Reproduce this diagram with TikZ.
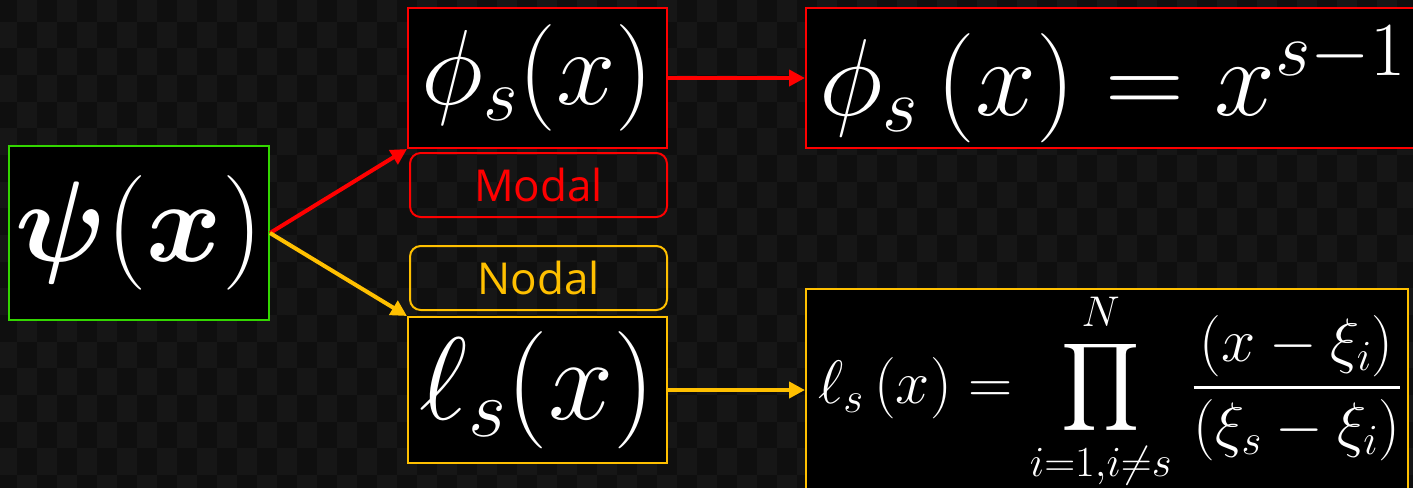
\RequirePackage{fix-cm}
\documentclass[tikz,border=0pt]{standalone}
\usepackage{amsmath}
\usepackage{fontspec}
\DeclareFontFamily{OMX}{cmex}{}
\DeclareFontShape{OMX}{cmex}{m}{n}{<->cmex10}{}
\newfontfamily\labelfont{Open Sans}
\usetikzlibrary{arrows.meta}
\definecolor{bgdark}{HTML}{0F0F0F}
\definecolor{bglight}{HTML}{161616}
\definecolor{mred}{HTML}{FF0000}
\definecolor{morange}{HTML}{FFC000}
\definecolor{mgreen}{HTML}{33D600}
\tikzset{
  mathbox/.style={draw, fill=black, line width=1.5pt, inner sep=0pt, text=white},
  tagbox/.style={draw, rounded corners=8pt, line width=1.5pt, inner sep=0pt,
    minimum width=192.75pt, minimum height=48pt, font=\labelfont\fontsize{33}{36}\selectfont},
  arrowline/.style={line width=3pt, -{Triangle[length=12pt,width=12pt]}},
  eqtext/.style={anchor=base west, inner sep=0pt, text=white}
}
\begin{document}
\begin{tikzpicture}[x=0.75pt,y=-0.75pt]
\useasboundingbox (0,0) rectangle (1413,487);
\clip (-20,-20) rectangle (1433,507);
\fill[bgdark] (-20,-20) rectangle (1433,507);
\foreach \k in {0,...,71}{\foreach \m in {0,...,19}{\ifodd\numexpr\k+\m\relax
  \fill[bglight] ({-3.33+20*\k},{-5+26.667*\m}) rectangle ++(20,26.667);\fi}}

\node[mathbox, draw=mgreen, minimum width=195pt, minimum height=130.5pt] (psi) at (139,233)
  {\fontsize{86}{90}\selectfont$\boldsymbol{\psi}(\boldsymbol{x})$};
\node[mathbox, draw=mred, minimum width=194.25pt, minimum height=105pt] (phi) at (537.5,78)
  {\fontsize{80}{84}\selectfont$\phi_s(x)$};
\node[tagbox, draw=mred, text=mred] (modal) at (538.5,185) {Modal};
\node[tagbox, draw=morange, text=morange] (nodal) at (538.5,278) {Nodal};
\node[mathbox, draw=morange, minimum width=194.25pt, minimum height=109.5pt] (ell) at (537.5,390)
  {\fontsize{88}{92}\selectfont$\ell_s(x)$};

\node[mathbox, draw=mred, minimum width=460.5pt, minimum height=105pt] (phieq) at (1113,78) {};
\node[mathbox, draw=morange, minimum width=451.5pt, minimum height=151.5pt] (elleq) at (1107,390) {};

\node[eqtext] (phieqtext) at (819,115)
  {\fontsize{82}{86}\selectfont$\phi_s\left(x\right)=x^{s-1}$};
\node[eqtext] (elleqtext) at (818,403)
  {\fontsize{46}{50}\selectfont$\displaystyle \ell_s\left(x\right)=\prod_{i=1,i\neq s}^{N}\,\frac{\left(x-\xi_i\right)}{\left(\xi_s-\xi_i\right)}$};

\draw[arrowline, mred] (psi.east) -- (phi.south west);
\draw[arrowline, morange] (psi.east) -- (ell.north west);
\draw[arrowline, mred] (phi.east) -- (phieq.west);
\draw[arrowline, morange] (ell.east) -- (elleq.west);
\end{tikzpicture}
\end{document}
